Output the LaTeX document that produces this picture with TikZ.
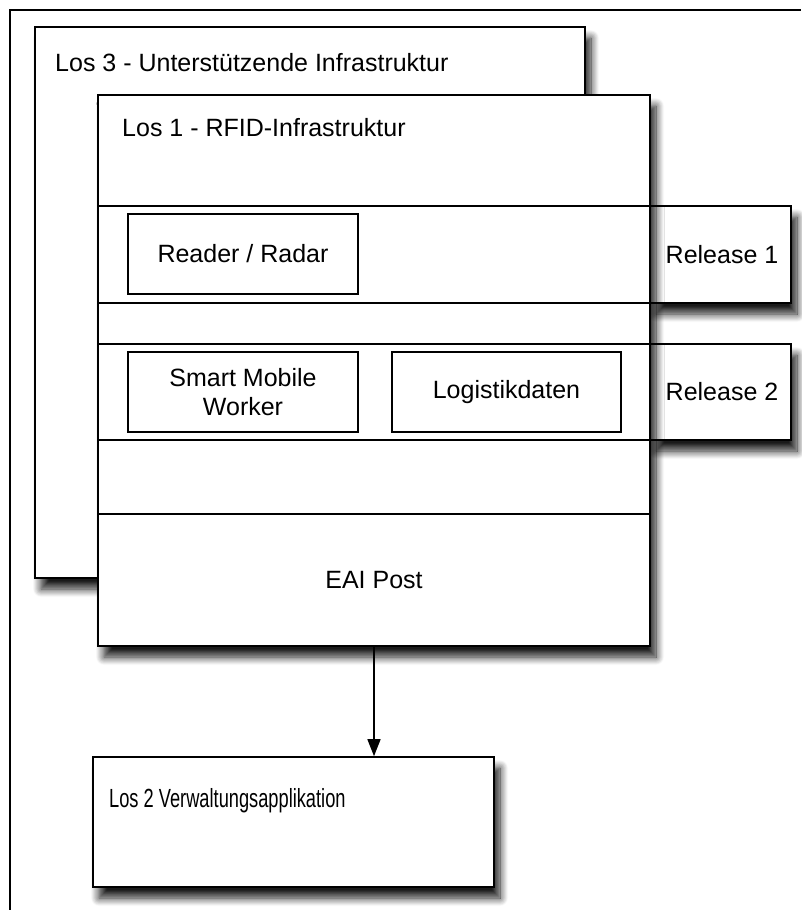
\documentclass[tikz,border=0pt]{standalone}
\usepackage{fontspec}
\setmainfont{Liberation Sans}
\usetikzlibrary{arrows.meta,shadows.blur}

\tikzset{
  box/.style={draw=black, line width=1.6pt, fill=white, inner sep=0pt},
  shadowed/.style={blur shadow={shadow xshift=6pt, shadow yshift=-11pt,
      shadow blur radius=8pt, shadow blur steps=12, shadow opacity=90}},
  inner/.style={draw=black, line width=1.3pt, fill=white, inner sep=0pt,
      align=center, font=\fontsize{25}{29}\selectfont},
  title/.style={inner sep=0pt, anchor=base west, font=\fontsize{25}{30}\selectfont},
  lbl/.style={inner sep=0pt, font=\fontsize{25}{30}\selectfont},
  rowline/.style={line width=1.6pt},
  flow/.style={line width=1.5pt, -{Triangle[length=17pt,width=13pt]}}
}

\begin{document}
\begin{tikzpicture}[x=1pt,y=-1pt]
  \useasboundingbox (0,0) rectangle (801,910);

  % surrounding frame, only its top and left edges lie inside the page
  \draw[line width=1.6pt] (10,910) -- (10,10) -- (801,10);

  % Los 3 in the back
  \node[box, shadowed, minimum width=550pt, minimum height=551pt] (los3) at (310,302.5) {};
  \node[title] (los3t) at (55,71) {Los 3 - Unterstützende Infrastruktur};

  % release tabs behind Los 1
  \node[box, shadowed, minimum width=141pt, minimum height=97pt] (rel1) at (720.5,254.5) {};
  \node[lbl] (rel1t) at (722,254.5) {Release 1};
  \node[box, shadowed, minimum width=141pt, minimum height=96pt] (rel2) at (720.5,392) {};
  \node[lbl] (rel2t) at (722,392) {Release 2};

  % Los 1 with its rows
  \node[box, shadowed, minimum width=552pt, minimum height=551pt] (los1) at (374,370.5) {};
  \node[title] (los1t) at (122,136) {Los 1 - RFID-Infrastruktur};

  \coordinate (r1) at (98,206);
  \coordinate (r2) at (98,303);
  \coordinate (r3) at (98,344);
  \coordinate (r4) at (98,440);
  \coordinate (r5) at (98,514);
  \foreach \r in {r1,r2,r3,r4,r5}
    \draw[rowline] (\r) -- (\r -| los1.east);

  \node[inner, minimum width=230pt, minimum height=80pt] (reader) at (243,254) {Reader / Radar};
  \node[inner, minimum width=230pt, minimum height=80pt] (smw) at (243,392) {Smart Mobile\\Worker};
  \node[inner, minimum width=229pt, minimum height=80pt] (logi) at (506.5,392) {Logistikdaten};

  \node[lbl] (eai) at (374,580) {EAI Post};

  % Los 2
  \node[box, shadowed, minimum width=401pt, minimum height=130pt] (los2) at (293.5,822) {};
  \node[title] (los2t) at (109,807) {\scalebox{0.73}[1.05]{Los 2 Verwaltungsapplikation}};

  % interface from Los 1 down to Los 2
  \draw[flow] (los1.south) -- (los1.south |- los2.north);
\end{tikzpicture}
\end{document}
